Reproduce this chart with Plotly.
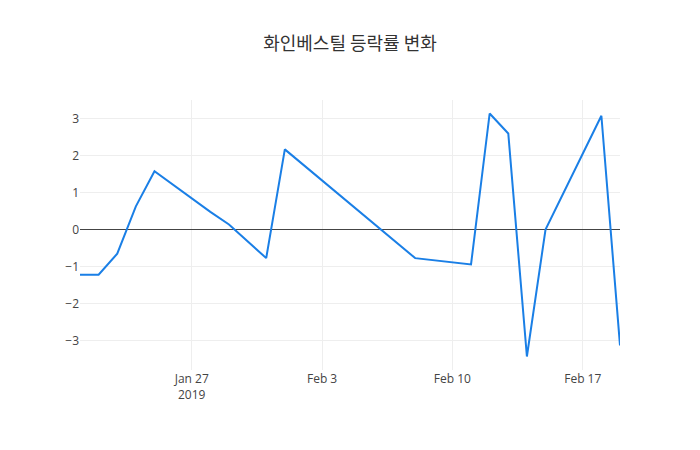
import plotly.graph_objects as go

dates = ["2019-01-21", "2019-01-22", "2019-01-23", "2019-01-24", "2019-01-25",
         "2019-01-28", "2019-01-29", "2019-01-30", "2019-01-31", "2019-02-01",
         "2019-02-08", "2019-02-11", "2019-02-12", "2019-02-13", "2019-02-14",
         "2019-02-15", "2019-02-18", "2019-02-19"]
rates = [-1.22, -1.22, -0.65, 0.63, 1.58,
         0.48, 0.14, -0.31, -0.77, 2.17,
         -0.77, -0.94, 3.14, 2.60, -3.43,
         0.0, 3.08, -3.13]

title_text = "화인베스틸 등락률 변화"

fig = go.Figure(go.Scatter(x=dates, y=rates, mode="lines",
                           line=dict(color="#1a7fe6", width=2)))
fig.update_layout(
    template="none",
    title=dict(text=title_text, x=0.5, xanchor="center",
               font=dict(size=18, color="#333",
                         family="Noto Sans CJK KR, sans-serif")),
    width=700, height=450,
    font=dict(family="Open Sans, Noto Sans CJK KR, sans-serif"),
    showlegend=False,
)
fig.write_html("out.html")
